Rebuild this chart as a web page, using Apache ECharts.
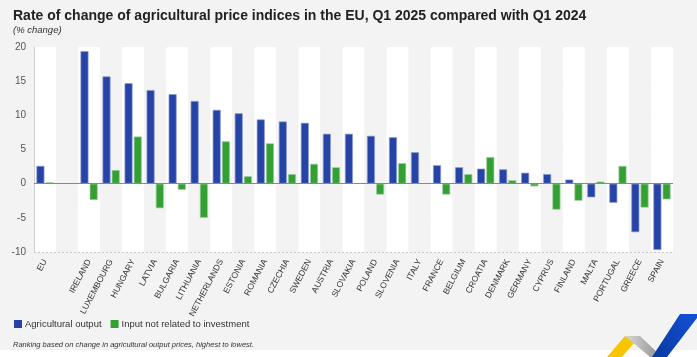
<!DOCTYPE html>
<html>
<head>
<meta charset="utf-8">
<script src="https://cdn.jsdelivr.net/npm/echarts@6/dist/echarts.min.js"></script>
<style>html,body{margin:0;padding:0;background:#f3f3f3;}#c{width:697px;height:357px;}</style>
</head>
<body>
<div id="c"></div>
<script>
const categories = ['EU','','IRELAND','LUXEMBOURG','HUNGARY','LATVIA','BULGARIA','LITHUANIA','NETHERLANDS','ESTONIA','ROMANIA','CZECHIA','SWEDEN','AUSTRIA','SLOVAKIA','POLAND','SLOVENIA','ITALY','FRANCE','BELGIUM','CROATIA','DENMARK','GERMANY','CYPRUS','FINLAND','MALTA','PORTUGAL','GREECE','SPAIN'];
const agriculturalOutput = [2.6,null,19.4,15.7,14.7,13.7,13.1,12.1,10.8,10.3,9.4,9.1,8.9,7.3,7.3,7.0,6.8,4.6,2.7,2.4,2.2,2.1,1.6,1.4,0.6,-2.0,-2.8,-7.1,-9.7];
const inputNotInvestment = [0.2,null,-2.4,2.0,6.9,-3.6,-0.9,-5.0,6.2,1.1,5.9,1.4,2.9,2.4,null,-1.6,3.0,null,-1.6,1.4,3.9,0.5,-0.4,-3.8,-2.5,0.3,2.6,-3.5,-2.3];
const yTicks = [-10,-5,0,5,10,15,20];

const FONT = "'Liberation Sans Narrow','Liberation Sans',sans-serif";
const chart = echarts.init(document.getElementById('c'), null, {renderer:'canvas'});
chart.setOption({
  backgroundColor:'#f3f3f3',
  animation:false,
  textStyle:{fontFamily:FONT},
  title:[
    {text:'Rate of change of agricultural price indices in the EU, Q1 2025 compared with Q1 2024',left:8,top:4,
     textStyle:{fontFamily:FONT,fontSize:14,fontWeight:'bold',color:'#222'}},
    {text:'(% change)',left:8,top:20,textStyle:{fontFamily:FONT,fontSize:9.5,fontStyle:'italic',fontWeight:'normal',color:'#333'}},
    {text:'Ranking based on change in agricultural output prices, highest to lowest.',left:8,top:336,
     textStyle:{fontFamily:FONT,fontSize:7.5,fontStyle:'italic',fontWeight:'normal',color:'#333'}}
  ],
  legend:{left:9,top:314,itemWidth:8,itemHeight:8,itemGap:9,icon:'rect',
    itemStyle:{borderWidth:0},
    textStyle:{fontFamily:FONT,fontSize:9.5,color:'#333',padding:[0,0,0,-2]},
    data:['Agricultural output','Input not related to investment']},
  grid:{left:34,right:24,top:47,bottom:105,containLabel:false},
  xAxis:{type:'category',data:categories,
    axisLine:{show:false,onZero:false},axisTick:{show:false},
    splitArea:{show:true,areaStyle:{color:['#ffffff','#f3f3f3']}},
    axisLabel:{interval:0,rotate:62,fontSize:8.5,color:'#333',fontFamily:FONT,margin:8}},
  yAxis:{type:'value',min:-10,max:20,interval:5,
    axisLine:{show:true,lineStyle:{color:'#d0d0d0'}},
    axisLabel:{fontSize:10,color:'#555',fontFamily:FONT,margin:8},
    splitLine:{show:true,lineStyle:{color:'#c8c8c8',type:[2,2]}}},
  series:[
    {name:'Agricultural output',type:'bar',data:agriculturalOutput,barWidth:8,barGap:'15%',
     itemStyle:{color:'#2644a7',borderColor:'#8d9bd0',borderWidth:0.7},
     markLine:{silent:true,symbol:'none',label:{show:false},lineStyle:{color:'#888',type:'solid',width:1},data:[{yAxis:0}]}},
    {name:'Input not related to investment',type:'bar',data:inputNotInvestment,barWidth:8,
     itemStyle:{color:'#33a033',borderColor:'#9fd09f',borderWidth:0.7}}
  ],
  graphic:[
    {type:'rect',shape:{x:0,y:350,width:697,height:7},style:{fill:'#ffffff'},z:-1},
    {type:'polygon',shape:{points:[[607,357],[625,336],[640,336],[622,357]]},style:{fill:'#f7c600'},z:10},
    {type:'polygon',shape:{points:[[625,336],[640,336],[662,357],[650,357]]},
     style:{fill:new echarts.graphic.LinearGradient(0,0,1,0,[{offset:0,color:'#d8d8d8'},{offset:1,color:'#8e8e8e'}])},z:10},
    {type:'polygon',shape:{points:[[652,357],[680,314],[697,314],[697,318],[667,357]]},
     style:{fill:new echarts.graphic.LinearGradient(0,1,1,0,[{offset:0,color:'#0a3a9e'},{offset:1,color:'#1450d8'}])},z:11}
  ]
});
</script>
</body>
</html>
